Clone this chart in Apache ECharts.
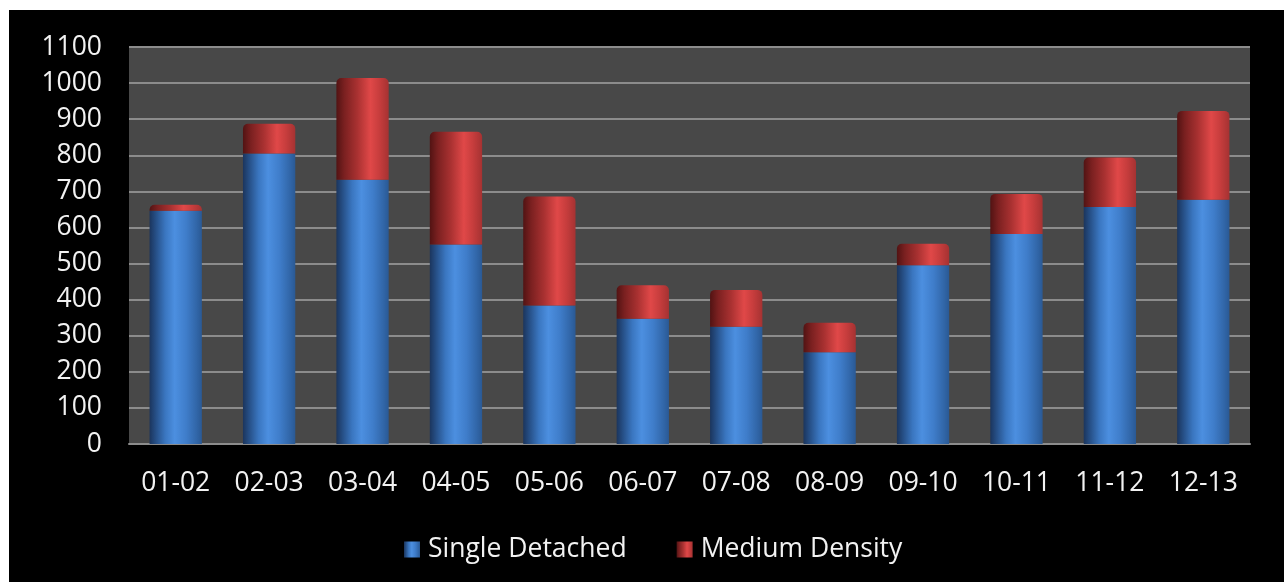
<!DOCTYPE html>
<html>
<head>
<meta charset="utf-8">
<script src="https://cdn.jsdelivr.net/npm/echarts@6/dist/echarts.min.js"></script>
<style>
  html, body { margin: 0; padding: 0; background: #ffffff; width: 1284px; height: 582px; overflow: hidden; }
  #chart { position: absolute; left: 9px; top: 10px; width: 1275px; height: 572px; }
</style>
</head>
<body>
<div id="chart"></div>
<script>
// Dwelling approvals by financial year
const categories = ['01-02', '02-03', '03-04', '04-05', '05-06', '06-07', '07-08', '08-09', '09-10', '10-11', '11-12', '12-13'];
const singleDetached = [646, 805, 732, 553, 384, 347, 325, 254, 495, 582, 657, 677];
const mediumDensity  = [17, 82, 282, 312, 302, 93, 102, 82, 60, 111, 137, 246];
const yTicks = { min: 0, max: 1100, interval: 100 };

const fontFamily = '"Open Sans", "Noto Sans", sans-serif';
const fontSize = 26.5;

function sideLight(stops) {
  return new echarts.graphic.LinearGradient(0, 0, 1, 0,
    stops.map(([offset, color]) => ({ offset, color })));
}

const blueFill = sideLight([
  [0, '#1b355d'], [0.12, '#264f86'], [0.3, '#3a76c0'],
  [0.48, '#4c8fe0'], [0.7, '#3f7dca'], [0.9, '#3166a8'], [1, '#2a5994']
]);
const redFill = sideLight([
  [0, '#521313'], [0.15, '#7a2020'], [0.4, '#a93131'],
  [0.65, '#e04848'], [0.82, '#c73d3d'], [1, '#a53232']
]);

const chart = echarts.init(document.getElementById('chart'), null, { renderer: 'canvas' });

chart.setOption({
  backgroundColor: '#000000',
  animation: false,
  textStyle: { fontFamily },
  grid: {
    left: 120, right: 34, top: 37, bottom: 138,
    show: true, backgroundColor: '#484848', borderWidth: 0
  },
  legend: {
    left: 390, top: 521,
    itemWidth: 16, itemHeight: 16, itemGap: 50,
    icon: 'rect',
    textStyle: { color: '#f2f2f2', fontSize, fontFamily, padding: [0, 0, 0, 3] },
    data: ['Single Detached', 'Medium Density']
  },
  xAxis: {
    type: 'category',
    data: categories,
    axisLine: { show: true, lineStyle: { color: '#8c8c8c', width: 2 } },
    axisTick: { show: false },
    axisLabel: { color: '#f2f2f2', fontSize, margin: 26, fontFamily }
  },
  yAxis: {
    type: 'value',
    min: yTicks.min, max: yTicks.max, interval: yTicks.interval,
    axisLine: { show: false },
    axisTick: { show: false },
    splitLine: { show: true, lineStyle: { color: '#8c8c8c', width: 2 } },
    axisLabel: {
      color: '#f2f2f2', fontSize, margin: 27, fontFamily,
      formatter: (v) => String(v)
    }
  },
  series: [
    {
      name: 'Single Detached',
      type: 'bar',
      stack: 'total',
      data: singleDetached,
      barCategoryGap: '44%',
      itemStyle: { color: blueFill }
    },
    {
      name: 'Medium Density',
      type: 'bar',
      stack: 'total',
      data: mediumDensity,
      barCategoryGap: '44%',
      itemStyle: { color: redFill, borderRadius: [5, 5, 0, 0] }
    }
  ]
});
</script>
</body>
</html>
